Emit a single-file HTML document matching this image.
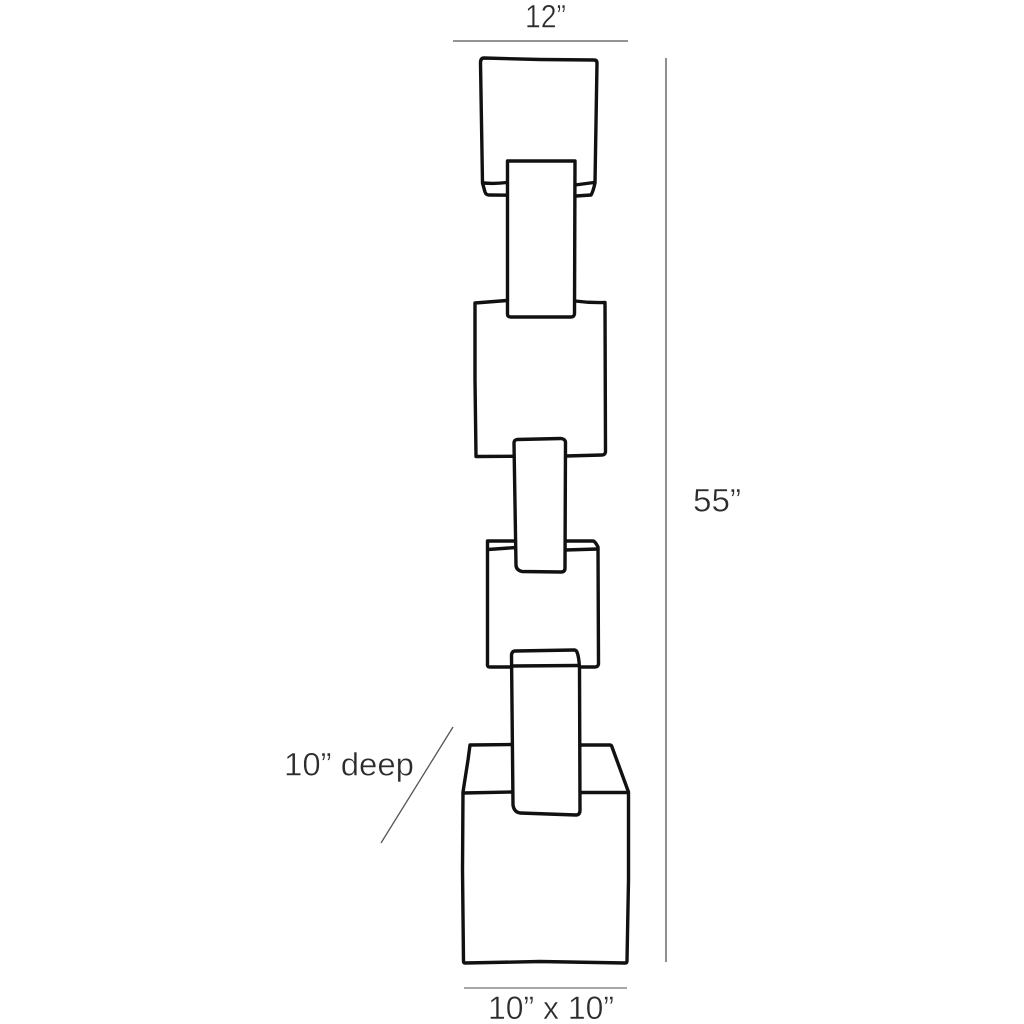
<!DOCTYPE html>
<html>
<head>
<meta charset="utf-8">
<style>
html,body{margin:0;padding:0;background:#fff;width:1024px;height:1024px;overflow:hidden}
svg{display:block}
text{font-family:"Liberation Sans",sans-serif;font-size:32px;fill:#2c2c2c;stroke:#fff;stroke-width:.45px}
.o{fill:#fff;stroke:#111;stroke-width:3.4;stroke-linejoin:round;stroke-linecap:round}
.l{fill:none;stroke:#111;stroke-width:3.4;stroke-linejoin:round;stroke-linecap:round}
.d{fill:none;stroke:#555;stroke-width:1.3}
</style>
</head>
<body>
<svg width="1024" height="1024" viewBox="0 0 1024 1024" xmlns="http://www.w3.org/2000/svg">
<rect width="1024" height="1024" fill="#fff"/>

<!-- dimension lines -->
<path class="d" d="M453 41H628"/>
<path class="d" d="M666 58V962"/>
<path class="d" d="M453 727L381 843"/>
<path class="d" d="M464 988H627" style="stroke:#888;stroke-width:1.6"/>

<!-- labels -->
<text x="525" y="27.500" textLength="41" lengthAdjust="spacingAndGlyphs">12”</text>
<text x="693" y="511.500" textLength="48" lengthAdjust="spacingAndGlyphs">55”</text>
<text x="284" y="775.500" textLength="130" lengthAdjust="spacingAndGlyphs">10” deep</text>
<text x="488" y="1019" textLength="126" lengthAdjust="spacingAndGlyphs">10” x 10”</text>

<!-- top block -->
<path class="o" d="M484 58L540 59.500L594 60Q597 60 597 63L595 183Q593 192 591 195L576 196L489 195Q486 195 485 192L482.500 183L480.500 63Q480.500 58 484 58Z"/>
<path class="l" d="M483 183Q495 184 507 182.500M575 185L594 182.500"/>

<!-- second block -->
<path class="o" d="M475 303L507 300.500L575 301Q590 303 605 302.500L605.500 452Q605 455 602 455L566 456L476 456.500L475 380Z"/>

<!-- link 1 -->
<path class="o" d="M507.500 161H575L574.500 314Q574 317 571 317L511 317Q507.500 317 507.500 314L507.500 230Z"/>

<!-- third block -->
<path class="o" d="M487.500 541L593 541Q595 541 598 547L598.500 664Q598 667 595 667L490 667Q487 667 487.500 664Z"/>
<path class="l" d="M488 549.500L516 547.500M565 550L598 549"/>

<!-- link 2 -->
<path class="o" d="M517 439.500L561 438.500Q565 439 565.500 442L565 568Q565 572 561 572L522 571.500Q516 570 516 565L514 443Q514 440 517 439.500Z"/>

<!-- bottom cube -->
<path class="o" d="M470 745L512 744.500L580 745L610 745Q611.500 745 612 747L628.500 792L628.500 880L627 961Q627 963 625 963L540 961.500L465 963Q463.500 963 463.500 961L462.500 870L463 792L468 760Z"/>
<path class="l" d="M463 793L512 792M580 792.500L628 792.500"/>

<!-- link 3 -->
<path class="o" d="M515 651L574 650Q576 650 577 652Q579 657 579.500 668L580 810Q580 815 576 815L520 813Q514 812 513 805L511.500 655Q512 651 515 651Z"/>
<path class="l" d="M512 666L578 665.500"/>
</svg>
</body>
</html>
